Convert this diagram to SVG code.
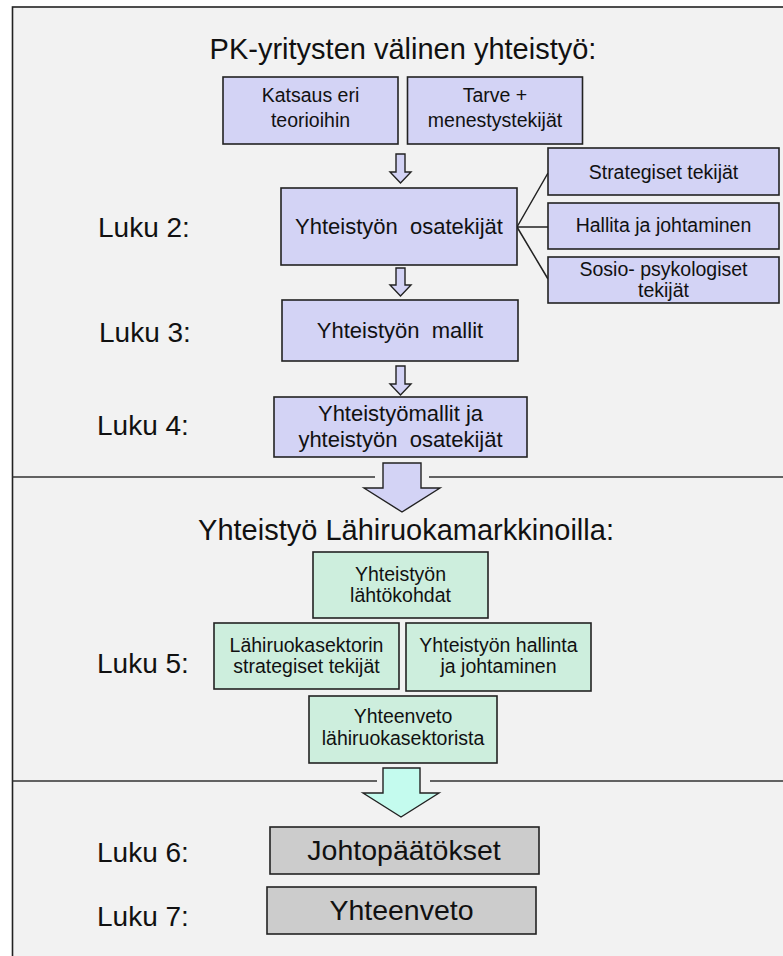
<svg xmlns="http://www.w3.org/2000/svg" width="783" height="956" viewBox="0 0 783 956">
  <style>
    text { font-family: "Liberation Sans", Arial, sans-serif; fill: #111; text-anchor: middle; }
    .box { stroke: #222; stroke-width: 1.6; }
    .lav { fill: #d3d3f5; }
    .grn { fill: #cdeedd; }
    .gry { fill: #cccccc; }
    .arrow { stroke: #222; stroke-width: 1.4; stroke-linejoin: miter; }
    .sep { stroke: #333; stroke-width: 1.6; fill: none; }
    .title { font-size: 29px; }
    .luku { font-size: 28px; text-anchor: start; }
    .t22 { font-size: 22px; }
    .t20 { font-size: 19.5px; }
    .t28 { font-size: 28.5px; }
  </style>

  <!-- page frame -->
  <rect x="0" y="0" width="783" height="956" fill="#ffffff"/>
  <rect x="12.5" y="7" width="800" height="1000" fill="#f2f2f2" stroke="#222" stroke-width="1.6"/>

  <!-- section separators -->
  <g id="separators">
    <path class="sep" d="M12.5 477 H375 M429 477 H783"/>
    <path class="sep" d="M12.5 781 H377 M430 781 H783"/>
  </g>

  <!-- headings and chapter labels -->
  <text class="title" x="403" y="59">PK-yritysten välinen yhteistyö:</text>
  <text class="title" x="406" y="540">Yhteistyö Lähiruokamarkkinoilla:</text>
  <text class="luku" x="98" y="237">Luku 2:</text>
  <text class="luku" x="99" y="342">Luku 3:</text>
  <text class="luku" x="97" y="435">Luku 4:</text>
  <text class="luku" x="97" y="673">Luku 5:</text>
  <text class="luku" x="97" y="862">Luku 6:</text>
  <text class="luku" x="97" y="926">Luku 7:</text>

  <!-- connectors -->
  <g id="connectors">
    <path d="M517 227 L548 173 M517 227 L548 227 M517 227 L548 279" stroke="#222" stroke-width="1.5" fill="none"/>
    <path class="arrow lav" d="M396 154 H405 V172 H411 L400.5 183 L390 172 H396 Z"/>
    <path class="arrow lav" d="M396 268 H405 V285 H411 L400.5 296 L390 285 H396 Z"/>
    <path class="arrow lav" d="M396 366 H405 V384 H411 L400.5 395 L390 384 H396 Z"/>
    <path class="arrow lav" d="M383 463 H421 V488 H440 L402 512 L364 488 H383 Z"/>
    <path class="arrow" fill="#c4fbee" d="M383 768 H420 V793 H439 L401 817 L363 793 H383 Z"/>
  </g>

  <!-- part 1 nodes -->
  <g id="katsaus">
    <rect class="box lav" x="223" y="77" width="175" height="67"/>
    <text class="t20" x="310.5" y="102">Katsaus eri</text>
    <text class="t20" x="310.5" y="127">teorioihin</text>
  </g>
  <g id="tarve">
    <rect class="box lav" x="407.5" y="77" width="175" height="67"/>
    <text class="t20" x="495" y="102">Tarve +</text>
    <text class="t20" x="495" y="127">menestystekijät</text>
  </g>
  <g id="osatekijat">
    <rect class="box lav" x="281" y="188" width="236" height="77"/>
    <text class="t22" x="399" y="234" xml:space="preserve">Yhteistyön  osatekijät</text>
  </g>
  <g id="strategiset">
    <rect class="box lav" x="548" y="148" width="231" height="47"/>
    <text class="t20" x="663.5" y="179">Strategiset tekijät</text>
  </g>
  <g id="hallita">
    <rect class="box lav" x="548" y="203" width="231" height="46"/>
    <text class="t20" x="663.5" y="232">Hallita ja johtaminen</text>
  </g>
  <g id="sosio">
    <rect class="box lav" x="548" y="257" width="231" height="46"/>
    <text class="t20" x="663.5" y="276">Sosio- psykologiset</text>
    <text class="t20" x="663.5" y="297">tekijät</text>
  </g>
  <g id="mallit">
    <rect class="box lav" x="282" y="300" width="236" height="61"/>
    <text class="t22" x="400" y="338" xml:space="preserve">Yhteistyön  mallit</text>
  </g>
  <g id="yhteistyomallit">
    <rect class="box lav" x="274" y="397" width="253" height="60"/>
    <text class="t22" x="400.5" y="421">Yhteistyömallit ja</text>
    <text class="t22" x="400.5" y="447" xml:space="preserve">yhteistyön  osatekijät</text>
  </g>

  <!-- part 2 nodes -->
  <g id="lahtokohdat">
    <rect class="box grn" x="313" y="552" width="175" height="66"/>
    <text class="t20" x="400.5" y="581">Yhteistyön</text>
    <text class="t20" x="400.5" y="602">lähtökohdat</text>
  </g>
  <g id="lahiruokasektorin">
    <rect class="box grn" x="214" y="623" width="185" height="66"/>
    <text class="t20" x="306.5" y="652">Lähiruokasektorin</text>
    <text class="t20" x="306.5" y="673">strategiset tekijät</text>
  </g>
  <g id="hallinta">
    <rect class="box grn" x="406" y="623" width="185" height="68"/>
    <text class="t20" x="498.5" y="652">Yhteistyön hallinta</text>
    <text class="t20" x="498.5" y="673">ja johtaminen</text>
  </g>
  <g id="yhteenveto-lahiruoka">
    <rect class="box grn" x="309" y="696" width="188" height="67"/>
    <text class="t20" x="403" y="723">Yhteenveto</text>
    <text class="t20" x="403" y="745">lähiruokasektorista</text>
  </g>

  <!-- part 3 nodes -->
  <g id="johtopaatokset">
    <rect class="box gry" x="270" y="827" width="269" height="47"/>
    <text class="t28" x="404" y="860">Johtopäätökset</text>
  </g>
  <g id="yhteenveto">
    <rect class="box gry" x="267" y="887" width="269" height="47"/>
    <text class="t28" x="401.5" y="920">Yhteenveto</text>
  </g>
</svg>
